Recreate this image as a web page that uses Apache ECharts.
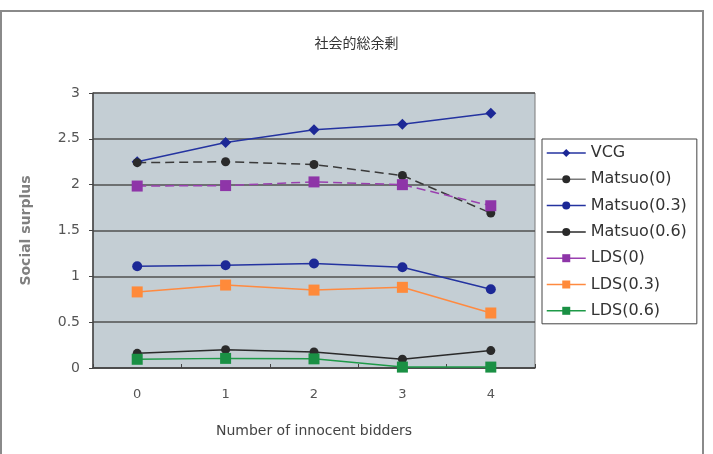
<!DOCTYPE html>
<html>
<head>
<meta charset="utf-8">
<script src="https://cdn.jsdelivr.net/npm/echarts@6/dist/echarts.min.js"></script>
<style>
  html, body { margin: 0; padding: 0; background: #fff; }
  #main { width: 713px; height: 454px; }
</style>
</head>
<body>
<div id="main"></div>
<script>
// 横軸: 無実の入札者数
var bidders = ['0', '1', '2', '3', '4'];

// 各手法の社会的総余剰
var vcg       = [2.25, 2.46, 2.60, 2.66, 2.78];
var matsuo0   = [2.24, 2.25, 2.22, 2.10, 1.69];
var matsuo03  = [1.11, 1.12, 1.14, 1.10, 0.86];
var matsuo06  = [0.16, 0.20, 0.175, 0.095, 0.19];
var lds0      = [1.985, 1.99, 2.03, 2.00, 1.77];
var lds03     = [0.83, 0.905, 0.85, 0.88, 0.60];
var lds06     = [0.095, 0.105, 0.10, 0.01, 0.01];

var seriesNames = ['VCG', 'Matsuo(0)', 'Matsuo(0.3)', 'Matsuo(0.6)', 'LDS(0)', 'LDS(0.3)', 'LDS(0.6)'];
// 凡例の線の色（点線の系列も凡例では実線）
var legendLineColors = ['#2433a0', '#7a7a7a', '#2433a0', '#2a2a2a', '#9a40b0', '#ff8a40', '#1e9a48'];

var fontFam = 'DejaVu Sans';

function mkLine(name, data, color, markColor, symbol, size, dashed) {
    return {
        name: name,
        type: 'line',
        data: data,
        symbol: symbol,
        symbolSize: size,
        lineStyle: { color: color, width: 1.5, type: dashed ? [9, 5] : 'solid' },
        itemStyle: { color: markColor, borderWidth: 0 },
        emphasis: { disabled: true },
        animation: false
    };
}

var legendData = [];
for (var i = 0; i < seriesNames.length; i++) {
    legendData.push({
        name: seriesNames[i],
        lineStyle: { type: 'solid', color: legendLineColors[i], width: 1.5 }
    });
}

var myChart = echarts.init(document.getElementById('main'));

var option = {
    animation: false,
    title: {
        text: '社会的総余剰',
        left: 'center',
        top: 31,
        textStyle: { fontFamily: 'Noto Sans CJK JP', fontSize: 14, fontWeight: 'normal', color: '#333' }
    },
    graphic: [{
        type: 'rect',
        shape: { x: 1, y: 11, width: 702, height: 460 },
        style: { fill: 'none', stroke: '#8a8a8a', lineWidth: 2 },
        silent: true
    }],
    legend: {
        orient: 'vertical',
        left: 542,
        top: 139,
        padding: [6, 10, 5, 4],
        itemGap: 10.3,
        itemWidth: 39,
        itemHeight: 10,
        borderColor: '#444',
        borderWidth: 1,
        backgroundColor: '#fff',
        data: legendData,
        textStyle: { fontFamily: fontFam, fontSize: 16, color: '#333' }
    },
    grid: {
        left: 93, right: 178, top: 93, bottom: 86,
        show: true,
        backgroundColor: '#c4ced4',
        borderColor: '#7a7a7a',
        borderWidth: 1
    },
    xAxis: {
        type: 'category',
        data: bidders,
        boundaryGap: true,
        name: 'Number of innocent bidders',
        nameLocation: 'middle',
        nameGap: 56,
        nameTextStyle: { fontFamily: fontFam, fontSize: 14, color: '#444' },
        axisLine: { lineStyle: { color: '#444', width: 1.5 } },
        axisTick: { show: true, inside: true, length: 4, lineStyle: { color: '#444' } },
        axisLabel: { margin: 20, fontFamily: fontFam, fontSize: 13, color: '#555' },
        splitLine: { show: false }
    },
    yAxis: {
        type: 'value',
        min: 0,
        max: 3,
        interval: 0.5,
        name: 'Social surplus',
        nameLocation: 'middle',
        nameGap: 60,
        nameTextStyle: { fontFamily: fontFam, fontSize: 14, fontWeight: 'bold', color: '#808080' },
        axisLine: { show: true, lineStyle: { color: '#444', width: 1.5 } },
        axisTick: { show: true, length: 4, lineStyle: { color: '#444' } },
        axisLabel: { margin: 13, fontFamily: fontFam, fontSize: 14, color: '#555' },
        splitLine: { show: true, lineStyle: { color: '#505050', width: 1.5 } }
    },
    series: [
        mkLine('VCG', vcg, '#2433a0', '#1c2896', 'diamond', 11, false),
        mkLine('Matsuo(0)', matsuo0, '#3a3a3a', '#2a2a2a', 'circle', 9, true),
        mkLine('Matsuo(0.3)', matsuo03, '#2433a0', '#1c2896', 'circle', 10, false),
        mkLine('Matsuo(0.6)', matsuo06, '#2a2a2a', '#2a2a2a', 'circle', 9, false),
        mkLine('LDS(0)', lds0, '#9a40b0', '#8e35a8', 'rect', 11, true),
        mkLine('LDS(0.3)', lds03, '#ff8a40', '#ff8a3a', 'rect', 11, false),
        mkLine('LDS(0.6)', lds06, '#1e9a48', '#1a9044', 'rect', 11, false)
    ]
};

myChart.setOption(option);
</script>
</body>
</html>
